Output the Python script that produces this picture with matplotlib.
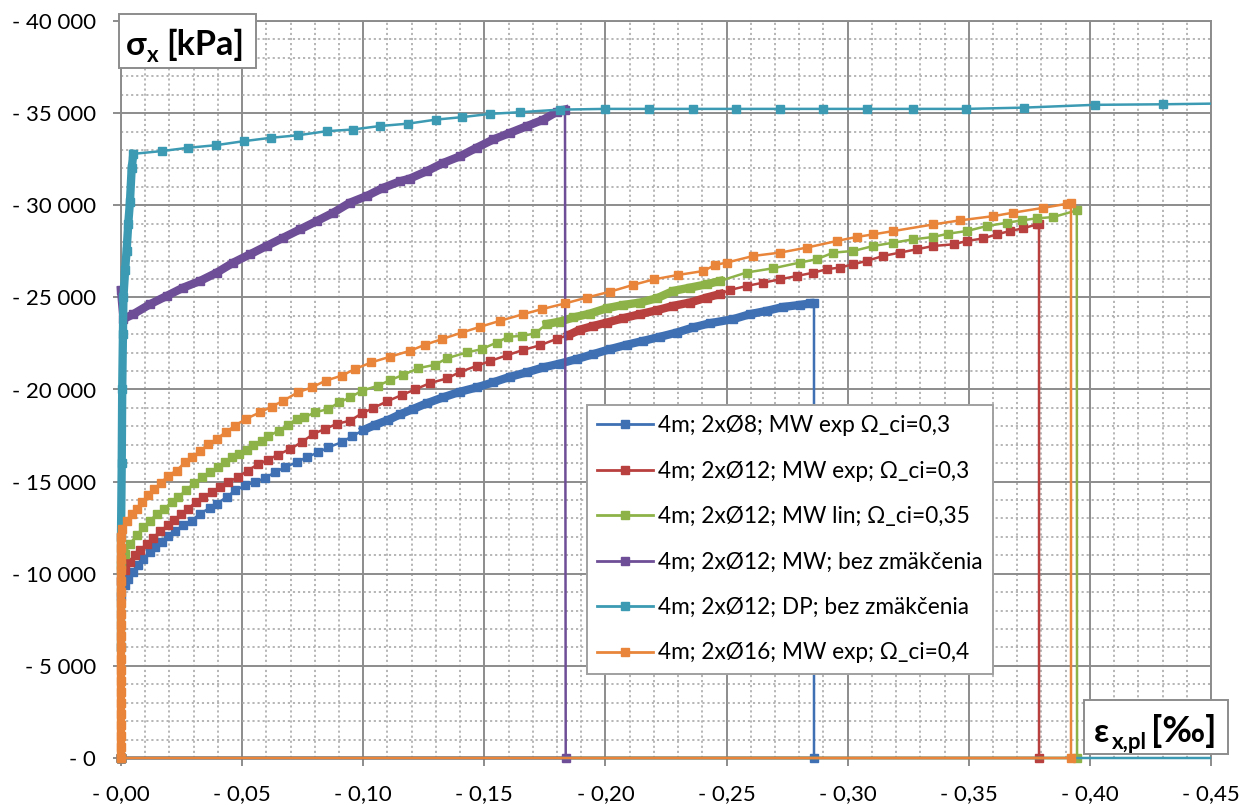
import numpy as np
import matplotlib
matplotlib.use("Agg")
import matplotlib.pyplot as plt
from matplotlib.lines import Line2D
from matplotlib.patches import Rectangle
from matplotlib.ticker import MultipleLocator, FuncFormatter
from matplotlib.transforms import Bbox, TransformedBbox

plt.rcParams['font.family'] = ['Lato', 'DejaVu Sans']

# ---------------- data (magnitudes: eps_x,pl [permille], sigma_x [kPa]); plotted as negative values
blue_pts = [(0, 0), (0, 8800), (0.0017, 9370), (0.0030, 9730), (0.0051, 10090), (0.0072, 10450),
            (0.0092, 10820), (0.0120, 11180), (0.0140, 11450), (0.0168, 11720), (0.0195, 12030),
            (0.0223, 12310), (0.0257, 12620), (0.0292, 12890), (0.0326, 13250), (0.0367, 13580),
            (0.0395, 13800), (0.0436, 14160), (0.0471, 14520), (0.0512, 14790), (0.0553, 14970),
            (0.0595, 15200), (0.0636, 15510), (0.0677, 15780), (0.0725, 16050), (0.0767, 16330),
            (0.0815, 16590), (0.0856, 16860), (0.0911, 17140), (0.0952, 17450), (0.1001, 17800),
            (0.1049, 18080), (0.1104, 18350), (0.1152, 18650), (0.1207, 18950), (0.1262, 19250),
            (0.1331, 19580), (0.1400, 19880), (0.1468, 20110), (0.1537, 20390), (0.1606, 20690),
            (0.1675, 20930), (0.1744, 21200), (0.1813, 21410), (0.1881, 21650), (0.1950, 21920),
            (0.2019, 22190), (0.2088, 22430), (0.2157, 22640), (0.2225, 22860), (0.2294, 23090),
            (0.2363, 23370), (0.2432, 23600), (0.2528, 23820), (0.2597, 24090), (0.2666, 24270),
            (0.2734, 24480), (0.2803, 24590), (0.2845, 24670), (0.2861, 24700), (0.2861, 0), (0, 0)]

red_pts = [(0, 0), (0, 9600), (0.0017, 10180), (0.0037, 10640), (0.0058, 11000), (0.0078, 11270),
           (0.0106, 11630), (0.0133, 11950), (0.0161, 12310), (0.0193, 12620), (0.0220, 12930),
           (0.0248, 13220), (0.0278, 13520), (0.0308, 13890), (0.0340, 14160), (0.0374, 14430),
           (0.0409, 14700), (0.0443, 14970), (0.0482, 15240), (0.0523, 15600), (0.0564, 15930),
           (0.0608, 16200), (0.0650, 16470), (0.0698, 16770), (0.0746, 17140), (0.0794, 17590),
           (0.0842, 17860), (0.0890, 18130), (0.0946, 18310), (0.0994, 18700), (0.1042, 19000),
           (0.1097, 19350), (0.1159, 19700), (0.1214, 20000), (0.1276, 20350), (0.1345, 20600),
           (0.1400, 20950), (0.1468, 21280), (0.1524, 21550), (0.1592, 21850), (0.1661, 22150),
           (0.1730, 22400), (0.1799, 22750), (0.1847, 22950), (0.1895, 23250), (0.1950, 23450),
           (0.2005, 23630), (0.2074, 23870), (0.2143, 24090), (0.2212, 24300), (0.2280, 24540),
           (0.2349, 24720), (0.2418, 24990), (0.2473, 25180), (0.2514, 25400), (0.2583, 25620),
           (0.2652, 25800), (0.2721, 25980), (0.2790, 26160), (0.2858, 26340), (0.2914, 26530),
           (0.2969, 26620), (0.3024, 26800), (0.3079, 26980), (0.3147, 27250), (0.3216, 27430),
           (0.3285, 27610), (0.3354, 27790), (0.3437, 27880), (0.3492, 28060), (0.3560, 28200),
           (0.3615, 28420), (0.3670, 28600), (0.3725, 28750), (0.3781, 28960), (0.3790, 29000),
           (0.3790, 0), (0, 0)]

green_pts = [(0, 0), (0, 10500), (0.0017, 11090), (0.0037, 11630), (0.0065, 12080), (0.0092, 12530),
             (0.0120, 12890), (0.0147, 13220), (0.0179, 13520), (0.0209, 13890), (0.0237, 14160),
             (0.0267, 14520), (0.0303, 14920), (0.0336, 15240), (0.0367, 15510), (0.0399, 15780),
             (0.0429, 16050), (0.0460, 16330), (0.0487, 16500), (0.0519, 16720), (0.0546, 17010),
             (0.0581, 17230), (0.0608, 17460), (0.0652, 17770), (0.0691, 18090), (0.0725, 18400),
             (0.0757, 18490), (0.0801, 18760), (0.0856, 18940), (0.0900, 19300), (0.0946, 19570),
             (0.0994, 19930), (0.1062, 20210), (0.1111, 20510), (0.1166, 20800), (0.1228, 21160),
             (0.1296, 21340), (0.1347, 21700), (0.1427, 22010), (0.1489, 22190), (0.1551, 22550),
             (0.1599, 22860), (0.1654, 22910), (0.1709, 23040), (0.1757, 23550), (0.1813, 23690),
             (0.1868, 23910), (0.1936, 24120), (0.2005, 24410), (0.2074, 24590), (0.2143, 24720),
             (0.2212, 24950), (0.2280, 25350), (0.2349, 25530), (0.2418, 25710), (0.2473, 25890),
             (0.2583, 26350), (0.2693, 26580), (0.2803, 26890), (0.2872, 27070), (0.2941, 27430),
             (0.3024, 27520), (0.3106, 27790), (0.3189, 27970), (0.3271, 28150), (0.3354, 28280),
             (0.3416, 28460), (0.3492, 28600), (0.3574, 28870), (0.3657, 29050), (0.3719, 29180),
             (0.3781, 29290), (0.3849, 29360), (0.3946, 29720), (0.3947, 0), (0, 0)]

purple_pts = [(0, 0), (0, 25400), (0.0010, 23820), (0.0051, 24090), (0.0120, 24630), (0.0189, 25080),
              (0.0257, 25530), (0.0326, 25890), (0.0395, 26340), (0.0464, 26890), (0.0533, 27340),
              (0.0601, 27790), (0.0670, 28240), (0.0739, 28690), (0.0808, 29140), (0.0877, 29600),
              (0.0945, 30140), (0.1014, 30500), (0.1083, 30950), (0.1152, 31300), (0.1193, 31450),
              (0.1262, 31850), (0.1331, 32300), (0.1400, 32660), (0.1468, 33120), (0.1537, 33570),
              (0.1606, 33930), (0.1675, 34290), (0.1744, 34650), (0.1799, 35070), (0.1833, 35190),
              (0.1836, 0), (0, 0)]

cyan_pts = [(0, 0), (0, 6000), (0, 12000), (0.0003, 16000), (0.0005, 20000), (0.0008, 23000),
            (0.0010, 25000), (0.0017, 26500), (0.0023, 27500), (0.0030, 29000), (0.0037, 30200),
            (0.0044, 32000), (0.0051, 32790), (0.0168, 32940), (0.0278, 33120), (0.0392, 33260),
            (0.0508, 33480), (0.0618, 33660), (0.0732, 33800), (0.0849, 34020), (0.0956, 34110),
            (0.1069, 34300), (0.1186, 34430), (0.1301, 34650), (0.1407, 34780), (0.1524, 34960),
            (0.1647, 35050), (0.1813, 35190), (0.2000, 35230), (0.2180, 35230), (0.2360, 35230),
            (0.2540, 35230), (0.2720, 35230), (0.2900, 35230), (0.3080, 35230), (0.3270, 35230),
            (0.3490, 35230), (0.3730, 35300), (0.4020, 35450), (0.4300, 35480), (0.4700, 35550),
            (0.4700, 0), (0, 0)]

orange_pts = [(0, 0), (0, 600), (0, 1200), (0, 1800), (0, 2400), (0, 3000), (0, 3600), (0, 4200),
              (0, 4800), (0, 5400), (0, 6000), (0, 6600), (0, 7200), (0, 7800), (0, 8400), (0, 9000),
              (0, 9600), (0, 10200), (0, 10800), (0, 11400), (0, 12000), (0.0003, 12440),
              (0.0023, 12890), (0.0044, 13250), (0.0065, 13520), (0.0085, 13890), (0.0113, 14250),
              (0.0138, 14610), (0.0165, 14920), (0.0195, 15330), (0.0230, 15600), (0.0264, 16050),
              (0.0295, 16360), (0.0326, 16650), (0.0361, 17050), (0.0395, 17320), (0.0432, 17680),
              (0.0471, 18040), (0.0515, 18400), (0.0574, 18760), (0.0622, 19070), (0.0670, 19390),
              (0.0729, 19840), (0.0787, 20110), (0.0845, 20480), (0.0911, 20750), (0.0966, 21110),
              (0.1033, 21470), (0.1111, 21780), (0.1193, 22100), (0.1255, 22430), (0.1324, 22730),
              (0.1407, 23090), (0.1482, 23400), (0.1565, 23730), (0.1661, 24090), (0.1737, 24360),
              (0.1833, 24670), (0.1923, 24990), (0.2019, 25310), (0.2115, 25680), (0.2201, 25980),
              (0.2301, 26220), (0.2404, 26430), (0.2453, 26760), (0.2501, 26890), (0.2611, 27250),
              (0.2721, 27430), (0.2831, 27700), (0.2955, 28060), (0.3037, 28280), (0.3106, 28420),
              (0.3189, 28600), (0.3354, 28960), (0.3464, 29180), (0.3602, 29410), (0.3684, 29600),
              (0.3808, 29860), (0.3905, 30080), (0.3922, 30100), (0.3922, 0), (0, 0)]

labels = ["4m; 2xØ8; MW exp Ω_ci=0,3",
          "4m; 2xØ12; MW exp; Ω_ci=0,3",
          "4m; 2xØ12; MW lin; Ω_ci=0,35",
          "4m; 2xØ12; MW; bez zmäkčenia",
          "4m; 2xØ12; DP; bez zmäkčenia",
          "4m; 2xØ16; MW exp; Ω_ci=0,4"]
colors = ['#3F70B3', '#B8403E', '#8DB348', '#6E4E96', '#3C9BB3', '#E8853A']
series = [blue_pts, red_pts, green_pts, purple_pts, cyan_pts, orange_pts]
# ranges where the markers overlap into a solid band
dense = [(0.0995, 0.2850), (0.180, 0.2500), (0.175, 0.2500), (0.0, 0.1834), (0.0, 0.0052), (0.0, 0.0)]

W, H = 1258, 805
fig = plt.figure(figsize=(W / 100, H / 100), dpi=100)
ax = fig.add_axes([121 / W, (H - 758) / H, (1211 - 121) / W, (758 - 21) / H])
clipbox = TransformedBbox(Bbox([[-0.007, -0.009], [1.0, 1.0]]), ax.transAxes)

for pts, col, (d0, d1) in zip(series, colors, dense):
    e = -np.array([p[0] for p in pts], dtype=float)
    s = -np.array([p[1] for p in pts], dtype=float)
    ln, = ax.plot(e, s, color=col, lw=1.8, marker='s', ms=5.3, mec=col, mfc=col, zorder=3)
    ln.set_clip_box(clipbox)
    mask = (-e >= d0) & (-e <= d1) & (s != 0)
    if col == '#E8853A':
        mask = ((-e <= d1) & (s != 0)) | ((e == 0) & (s == 0))
    sd = np.where(mask, s, np.nan)
    ln2, = ax.plot(e, sd, color=col, lw=6.0, solid_capstyle='projecting', zorder=3)
    ln2.set_clip_box(clipbox)

ax.set_xlim(0, -0.45)
ax.set_ylim(0, -40000)
ax.xaxis.set_major_locator(MultipleLocator(0.05))
ax.xaxis.set_minor_locator(MultipleLocator(0.01))
ax.yaxis.set_major_locator(MultipleLocator(5000))
ax.yaxis.set_minor_locator(MultipleLocator(1000))

ax.xaxis.set_major_formatter(FuncFormatter(lambda v, p: "- " + f"{abs(v):.2f}".replace('.', ',')))
ax.yaxis.set_major_formatter(FuncFormatter(lambda v, p: "- " + f"{abs(v):,.0f}".replace(',', ' ')))

ax.grid(which='major', color='#8c8c8c', lw=1.4, zorder=0)
ax.grid(which='minor', color='#b0b0b0', lw=1.3, ls=(0, (1.2, 1.6)), zorder=0)
ax.set_axisbelow(True)
for sp in ax.spines.values():
    sp.set_color('#8c8c8c')
    sp.set_linewidth(1.4)
    sp.set_zorder(1)
ax.tick_params(which='major', direction='out', length=6, width=1.4, color='#8c8c8c',
               labelsize=16, labelcolor='black')
ax.tick_params(axis='x', which='major', pad=13)
ax.tick_params(axis='y', which='major', pad=12)
ax.tick_params(which='minor', length=0)

handles = [Line2D([], [], color=c, lw=2, marker='s', ms=6) for c in colors]
leg = ax.legend(handles, labels, loc='upper left', bbox_to_anchor=(587 / W, 1 - 405 / H),
                bbox_transform=fig.transFigure, fontsize=16.3, frameon=True, fancybox=False,
                framealpha=1, edgecolor='#a0a0a0', borderaxespad=0, borderpad=0.45,
                handlelength=2.45, handletextpad=0.25, labelspacing=1.08)
leg.get_frame().set_linewidth(1.4)
leg.set_zorder(5)


def fx(px):
    return px / W


def fy(py):
    return 1 - py / H


# axis-title boxes
fig.add_artist(Rectangle((fx(119), fy(68)), (256 - 119) / W, (68 - 14) / H, transform=fig.transFigure,
                         facecolor='white', edgecolor='#8c8c8c', lw=1.4, zorder=10))
fig.text(fx(126), fy(55), "σ", fontsize=24, fontweight='bold', va='baseline', ha='left', zorder=11)
fig.text(fx(147), fy(62), "x", fontsize=16, fontweight='bold', va='baseline', ha='left', zorder=11)
fig.text(fx(166), fy(55), "[kPa]", fontsize=24.5, fontweight='bold', va='baseline', ha='left', zorder=11)

fig.add_artist(Rectangle((fx(1084), fy(754)), (1228 - 1084) / W, (754 - 700) / H, transform=fig.transFigure,
                         facecolor='white', edgecolor='#8c8c8c', lw=1.4, zorder=10))
fig.text(fx(1094), fy(742), "ε", fontsize=24, fontweight='bold', va='baseline', ha='left', zorder=11)
fig.text(fx(1112), fy(749), "x,pl", fontsize=16, fontweight='bold', va='baseline', ha='left', zorder=11)
fig.text(fx(1151), fy(742), "[‰]", fontsize=26, fontweight='bold', va='baseline', ha='left', zorder=11)

fig.savefig("out.png", dpi=100, facecolor='white')
